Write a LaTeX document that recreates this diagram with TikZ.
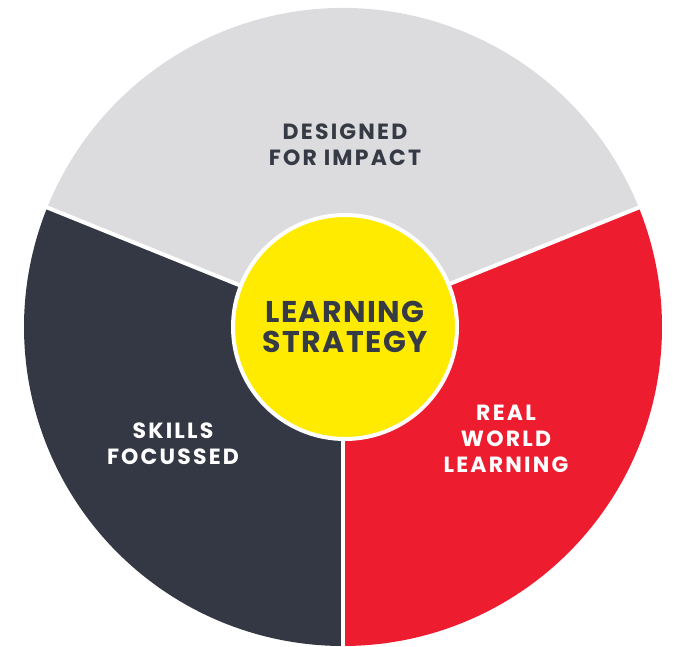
\documentclass[tikz,border=0pt]{standalone}
\usepackage{fontspec}
\setmainfont{Poppins}
\usetikzlibrary{calc}

\definecolor{impactgrey}{HTML}{DCDCDE}
\definecolor{skillsdark}{HTML}{343844}
\definecolor{realred}{HTML}{ED1C2E}
\definecolor{hubyellow}{HTML}{FFEB00}
\definecolor{inkdark}{HTML}{363A45}

\begin{document}
\begin{tikzpicture}[
    x=1pt, y=1pt,
    divider/.style={white, line width=4pt},
    hub/.style={
        circle,
        fill=hubyellow,
        draw=white,
        line width=4pt,
        minimum size=224pt,
        inner sep=0pt,
        align=center,
        text=inkdark,
        font=\fontsize{30}{30}\selectfont\bfseries\addfontfeature{LetterSpace=5}
    },
    segtext/.style={
        align=center,
        font=\fontsize{22}{26}\selectfont\bfseries\addfontfeature{LetterSpace=10}
    }
]

\useasboundingbox (0,0) rectangle (678,-646);
\coordinate (centre) at (343,-327);

% the three segments
\fill[impactgrey] (centre) -- ++(22:319) arc (22:158:319) -- cycle;
\fill[skillsdark] (centre) -- ++(158:319) arc (158:270:319) -- cycle;
\fill[realred] (centre) -- ++(270:319) arc (270:382:319) -- cycle;

\draw[divider] (centre) -- ++(22:322);
\draw[divider] (centre) -- ++(158:322);
\draw[divider] (centre) -- ++(270:322);

\node[hub] (strategy) at (345,-327) {LEARNING\\STRATEGY};

\node[segtext, text=inkdark] (impact) at (345,-145) {DESIGNED\\FOR IMPACT};
\node[segtext, text=white] (skills) at (173,-444) {SKILLS\\FOCUSSED};
\node[segtext, text=white] (realworld) at (506,-439) {REAL\\WORLD\\LEARNING};

\end{tikzpicture}
\end{document}
